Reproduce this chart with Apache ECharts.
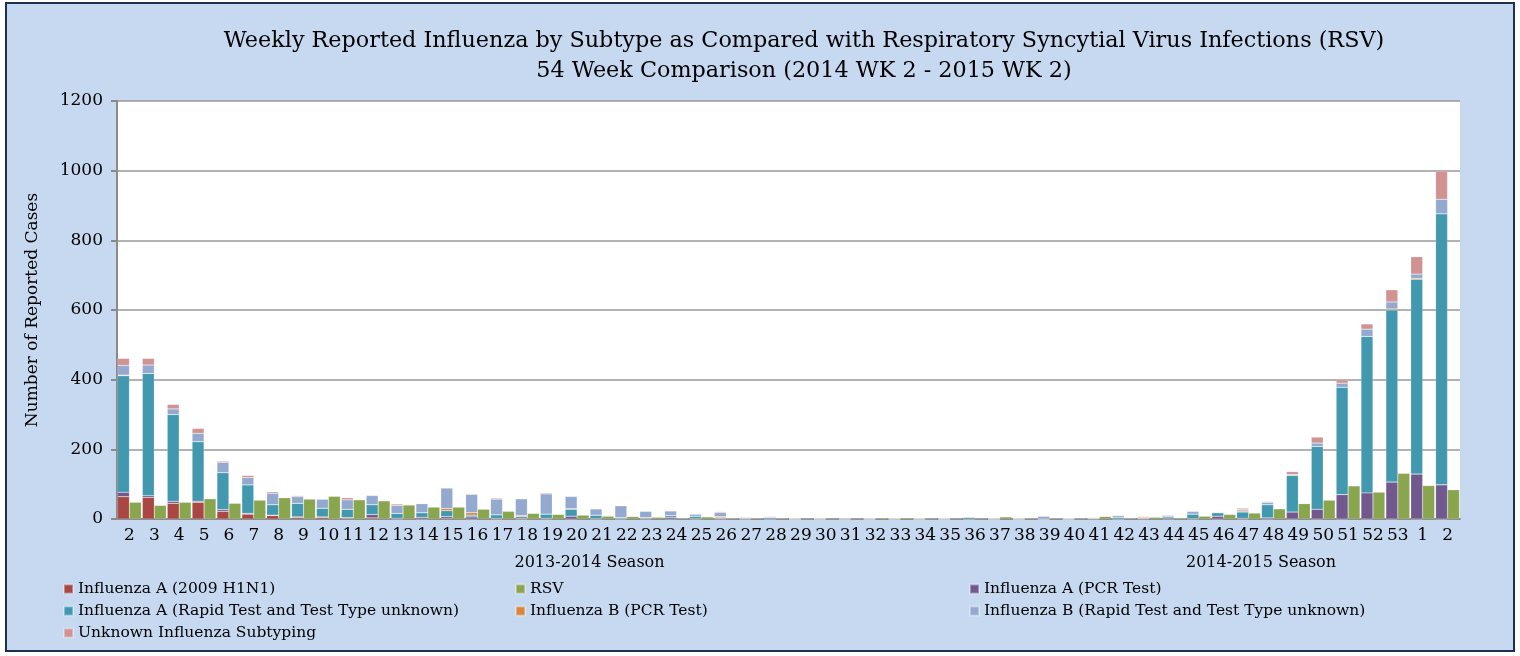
<!DOCTYPE html>
<html>
<head>
<meta charset="utf-8">
<script src="https://cdn.jsdelivr.net/npm/echarts@6/dist/echarts.min.js"></script>
<style>
  html, body { margin: 0; padding: 0; background: #fff; }
  #frame { position: absolute; left: 5px; top: 2px; width: 1506px; height: 646px; border: 2px solid #1f2f4f; background: #c6d9f1; }
  #chart { position: absolute; left: 0; top: 0; width: 1520px; height: 656px; }
</style>
</head>
<body>
<div id="frame"></div>
<div id="chart"></div>
<script>
// week labels, 2014 WK 2 through 2015 WK 2
const weeks = ['2', '3', '4', '5', '6', '7', '8', '9', '10', '11',
  '12', '13', '14', '15', '16', '17', '18', '19', '20', '21',
  '22', '23', '24', '25', '26', '27', '28', '29', '30', '31',
  '32', '33', '34', '35', '36', '37', '38', '39', '40', '41',
  '42', '43', '44', '45', '46', '47', '48', '49', '50', '51',
  '52', '53', '1', '2']

const seasons = ['2013-2014 Season', '2014-2015 Season']
const seasonSpans = [[0, 37], [38, 53]] // first / last week index of each season

const h1n1 = [64, 62, 45, 48, 22, 14, 10, 5, 5, 2,
  3, 0, 0, 2, 0, 0, 0, 0, 0, 0,
  0, 0, 0, 0, 0, 0, 0, 0, 0, 0,
  0, 0, 0, 0, 0, 0, 0, 0, 0, 0,
  0, 0, 0, 0, 0, 0, 0, 0, 0, 0,
  0, 0, 0, 0]
const aPcr = [13, 5, 6, 3, 5, 2, 1, 1, 1, 2,
  10, 2, 5, 5, 6, 2, 2, 2, 8, 1,
  1, 2, 5, 1, 2, 1, 0, 0, 0, 0,
  0, 0, 0, 0, 0, 0, 0, 0, 0, 1,
  0, 2, 3, 1, 8, 2, 3, 20, 28, 70,
  75, 106, 129, 98]
const aRapid = [334, 351, 249, 171, 106, 82, 30, 39, 25, 24,
  28, 14, 13, 17, 5, 10, 5, 12, 20, 10,
  3, 2, 5, 7, 2, 0, 4, 0, 0, 0,
  0, 0, 0, 0, 5, 0, 0, 0, 0, 1,
  5, 0, 5, 13, 10, 18, 38, 105, 180, 308,
  449, 494, 559, 778]
const bPcr = [2, 0, 0, 0, 0, 0, 0, 0, 0, 0,
  0, 0, 0, 6, 7, 0, 3, 0, 2, 0,
  0, 0, 0, 0, 3, 0, 0, 0, 0, 0,
  0, 0, 0, 0, 0, 0, 0, 0, 0, 0,
  0, 2, 0, 0, 0, 3, 0, 0, 0, 0,
  0, 3, 3, 0]
const bRapid = [28, 24, 16, 24, 30, 21, 33, 19, 26, 27,
  26, 23, 26, 59, 53, 45, 48, 58, 35, 18,
  34, 18, 13, 6, 11, 3, 2, 1, 1, 3,
  1, 2, 1, 1, 1, 2, 1, 8, 1, 2,
  5, 0, 2, 8, 2, 4, 7, 3, 10, 12,
  21, 20, 12, 42]
const unknown = [20, 19, 13, 14, 3, 6, 4, 3, 0, 6,
  2, 4, 1, 0, 0, 3, 0, 3, 0, 0,
  0, 1, 1, 0, 3, 2, 2, 0, 0, 0,
  0, 0, 0, 0, 0, 0, 0, 0, 1, 0,
  0, 3, 2, 0, 0, 4, 2, 8, 17, 10,
  15, 35, 50, 81]
const rsv = [48, 39, 48, 58, 45, 54, 61, 57, 65, 55,
  52, 40, 34, 34, 28, 22, 16, 13, 11, 8,
  7, 5, 2, 6, 2, 2, 2, 1, 1, 1,
  3, 3, 1, 1, 1, 6, 2, 2, 2, 7,
  2, 5, 3, 8, 13, 17, 29, 44, 54, 95,
  77, 131, 96, 84]

const FONT = 'DejaVu Serif'
const names = {
  h1n1: 'Influenza A (2009 H1N1)',
  rsv: 'RSV',
  aPcr: 'Influenza A (PCR Test)',
  aRapid: 'Influenza A (Rapid Test and Test Type unknown)',
  bPcr: 'Influenza B (PCR Test)',
  bRapid: 'Influenza B (Rapid Test and Test Type unknown)',
  unknown: 'Unknown Influenza Subtyping',
}

const chart = echarts.init(document.getElementById('chart'))

function flu(name, data, color) {
  return {
    name: name,
    type: 'bar',
    stack: 'flu',
    data: data,
    barCategoryGap: '4%',
    barGap: '0%',
    itemStyle: { color: color, borderColor: 'rgba(255,255,255,0.35)', borderWidth: 0.5 },
  }
}

const legendBase = {
  orient: 'vertical',
  icon: 'rect',
  itemWidth: 9,
  itemHeight: 9,
  itemGap: 6,
  top: 576,
  textStyle: { fontFamily: FONT, fontSize: 15.5, lineHeight: 16, color: '#000' },
}

const option = {
  animation: false,
  backgroundColor: 'transparent',
  title: {
    text: 'Weekly Reported Influenza by Subtype as Compared with Respiratory Syncytial Virus Infections (RSV)\n54 Week Comparison (2014 WK 2 - 2015 WK 2)',
    left: 804,
    top: 26,
    padding: 0,
    textAlign: 'center',
    textStyle: { fontFamily: FONT, fontSize: 22.3, fontWeight: 'normal', lineHeight: 30, color: '#000' },
  },
  legend: [
    Object.assign({}, legendBase, { left: 58, data: [names.h1n1, names.aRapid, names.unknown] }),
    Object.assign({}, legendBase, { left: 510, data: [names.rsv, names.bPcr] }),
    Object.assign({}, legendBase, { left: 964, data: [names.aPcr, names.bRapid] }),
  ],
  grid: {
    left: 117,
    right: 60,
    top: 101,
    bottom: 137,
    show: true,
    backgroundColor: '#fff',
    borderWidth: 0,
  },
  xAxis: {
    type: 'category',
    data: weeks,
    axisLine: { lineStyle: { color: '#8a8a8a', width: 2 } },
    axisTick: { show: false },
    axisLabel: { interval: 0, margin: 8, fontFamily: FONT, fontSize: 17, color: '#000' },
  },
  yAxis: {
    type: 'value',
    min: 0,
    max: 1200,
    interval: 200,
    name: 'Number of Reported Cases',
    nameLocation: 'middle',
    nameGap: 76,
    nameTextStyle: { fontFamily: FONT, fontSize: 17, color: '#000' },
    axisLine: { show: true, lineStyle: { color: '#8a8a8a', width: 2 } },
    axisTick: { show: true, length: 6, lineStyle: { color: '#8a8a8a', width: 2 } },
    splitLine: { lineStyle: { color: '#999', width: 1.5 } },
    axisLabel: {
      margin: 14,
      fontFamily: FONT,
      fontSize: 17,
      color: '#000',
      formatter: function (v) { return String(v) },
    },
  },
  series: [
    flu(names.h1n1, h1n1, '#AA4643'),
    {
      name: names.rsv,
      type: 'bar',
      data: rsv,
      barCategoryGap: '4%',
      barGap: '0%',
      itemStyle: { color: '#89A54E', borderColor: 'rgba(255,255,255,0.35)', borderWidth: 0.5 },
    },
    flu(names.aPcr, aPcr, '#71588F'),
    flu(names.aRapid, aRapid, '#4198AF'),
    flu(names.bPcr, bPcr, '#DB843D'),
    flu(names.bRapid, bRapid, '#93A9CF'),
    flu(names.unknown, unknown, '#D19392'),
  ],
}

chart.setOption(option)

// season labels centred under their week ranges
const seasonText = seasons.map(function (s, i) {
  const x0 = chart.convertToPixel({ xAxisIndex: 0 }, seasonSpans[i][0])
  const x1 = chart.convertToPixel({ xAxisIndex: 0 }, seasonSpans[i][1])
  return {
    type: 'text',
    x: (x0 + x1) / 2,
    y: 563,
    style: {
      text: s,
      fontFamily: FONT,
      fontSize: 16,
      fill: '#000',
      align: 'center',
      verticalAlign: 'middle',
    },
  }
})
chart.setOption({ graphic: seasonText })
</script>
</body>
</html>
